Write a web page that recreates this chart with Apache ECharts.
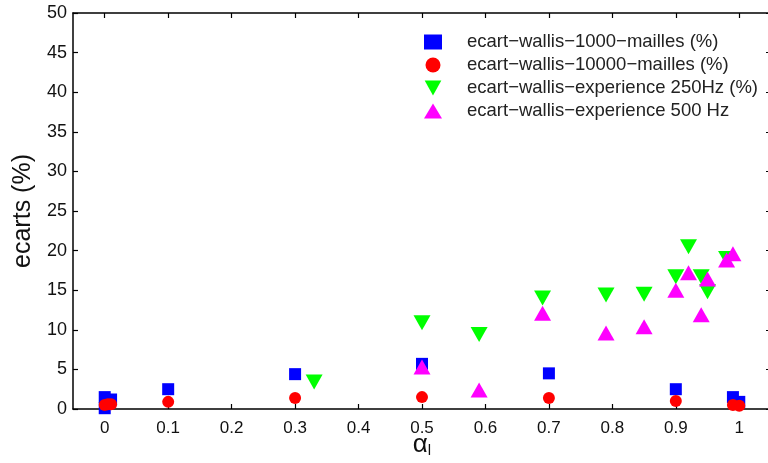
<!DOCTYPE html>
<html><head><meta charset="utf-8">
<script src="https://cdn.jsdelivr.net/npm/echarts@6/dist/echarts.min.js"></script>
<style>html,body{margin:0;padding:0;background:#fff}#c{width:768px;height:463px}</style>
</head><body><div id="c"></div>
<script>
const xTicks = [0,0.1,0.2,0.3,0.4,0.5,0.6,0.7,0.8,0.9,1];
const names = ['ecart\u2212wallis\u22121000\u2212mailles (%)','ecart\u2212wallis\u221210000\u2212mailles (%)','ecart\u2212wallis\u2212experience 250Hz (%)','ecart\u2212wallis\u2212experience 500 Hz'];
const m1000 = [[0,1.5],[0,0.1],[0.01,1.2],[0.1,2.5],[0.3,4.4],[0.5,5.7],[0.7,4.5],[0.9,2.5],[0.99,1.5],[1.0,0.9]];
const m10000 = [[0,0.5],[0.005,0.6],[0.01,0.6],[0.1,0.9],[0.3,1.4],[0.5,1.5],[0.7,1.4],[0.9,1.0],[0.99,0.5],[1.0,0.4]];
const exp250 = [[0.33,3.4],[0.5,10.9],[0.59,9.4],[0.69,14.0],[0.79,14.4],[0.85,14.5],[0.9,16.7],[0.92,20.5],[0.94,16.7],[0.95,14.8],[0.98,19.0]];
const exp500 = [[0.5,5.3],[0.59,2.4],[0.69,12.1],[0.79,9.6],[0.85,10.4],[0.9,15.0],[0.92,17.2],[0.94,11.9],[0.95,16.4],[0.98,18.8],[0.99,19.6]];
const font = 'Liberation Sans, Arial, sans-serif';
const downTri = 'path://M0,0 L10,0 L5,9 Z';
const chart = echarts.init(document.getElementById('c'));
const axLine = {show:true, onZero:false, lineStyle:{color:'#000', width:1.5}};
chart.setOption({
  animation:false,
  grid:{left:73, top:13, width:698, height:396, containLabel:false, outerBoundsMode:'none'},
  legend:{
    orient:'vertical', left:419, top:27, itemGap:3, itemWidth:18, itemHeight:15,
    textStyle:{fontFamily:font, fontSize:18.5, lineHeight:20, color:'#222', padding:[0,0,0,20]},
    data:names
  },
  xAxis:[{
    type:'value', min:-0.05, max:1.05, position:'bottom',
    axisLine:axLine, splitLine:{show:false},
    axisTick:{show:true, inside:true, length:5, customValues:xTicks, lineStyle:{color:'#000',width:1.2}},
    axisLabel:{customValues:xTicks, fontFamily:font, fontSize:17, color:'#111', margin:11},
    name:'{a|\u03b1}{s|l}', nameLocation:'middle', nameGap:22, nameMoveOverlap:false,
    nameTextStyle:{rich:{a:{fontFamily:font,fontSize:26,color:'#111'},s:{fontFamily:font,fontSize:15,color:'#111',verticalAlign:'bottom',padding:[12,0,0,0]}}}
  },{
    type:'value', min:-0.05, max:1.05, position:'top',
    axisLine:axLine, splitLine:{show:false},
    axisTick:{show:true, inside:true, length:5, customValues:xTicks, lineStyle:{color:'#000',width:1.2}},
    axisLabel:{show:false}
  }],
  yAxis:[{
    type:'value', min:0, max:50, interval:5, position:'left',
    axisLine:axLine, splitLine:{show:false},
    axisTick:{show:true, inside:true, length:5, lineStyle:{color:'#000',width:1.2}},
    axisLabel:{fontFamily:font, fontSize:18, color:'#111', margin:6},
    name:'ecarts (%)', nameLocation:'middle', nameGap:36, nameRotate:90,
    nameTextStyle:{fontFamily:font, fontSize:25, color:'#111'}
  },{
    type:'value', min:0, max:50, interval:5, position:'right',
    axisLine:axLine, splitLine:{show:false},
    axisTick:{show:true, inside:true, length:5, lineStyle:{color:'#000',width:1.2}},
    axisLabel:{show:false}
  }],
  series:[
    {name:names[0], type:'scatter', data:m1000, symbol:'rect', symbolSize:12, itemStyle:{color:'#0000ff', opacity:1}},
    {name:names[1], type:'scatter', data:m10000, symbol:'circle', symbolSize:12, itemStyle:{color:'#ff0000', opacity:1}},
    {name:names[2], type:'scatter', data:exp250, symbol:downTri, symbolSize:[17,15], itemStyle:{color:'#00ff00', opacity:1}},
    {name:names[3], type:'scatter', data:exp500, symbol:'triangle', symbolSize:[17,15], itemStyle:{color:'#ff00ff', opacity:1}}
  ]
});
</script></body></html>
